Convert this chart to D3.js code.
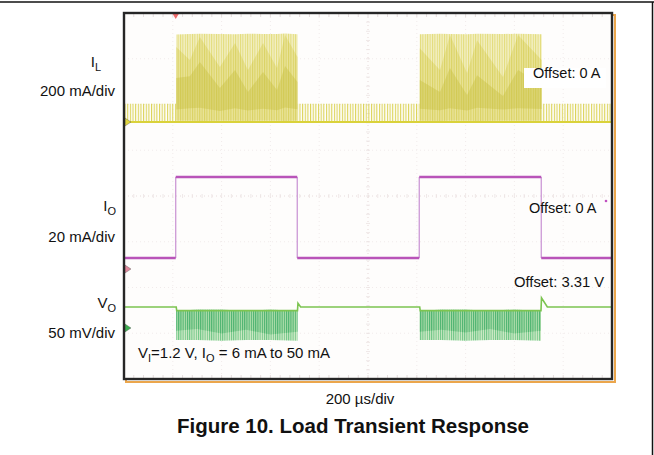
<!DOCTYPE html>
<html><head><meta charset="utf-8">
<script src="https://cdn.jsdelivr.net/npm/d3@7"></script>
<style>
html,body{margin:0;padding:0;background:#fff;}
svg{display:block;font-family:"Liberation Sans",Arial,Helvetica,sans-serif;}
</style></head><body>
<svg id="chart" width="654" height="455"></svg>
<script>
// ---- horizontal axis: 10 divisions of 200 µs ----
const timeDomain = [0, 2000];
const timeDivs = [0, 200, 400, 600, 800, 1000, 1200, 1400, 1600, 1800, 2000];
const vertDivs = [-4, -3, -2, -1, 0, 1, 2, 3, 4];

// ---- load current I_O (mA): step times (µs) and levels ----
const ioEdges = [212, 710, 1210, 1710];
const ioLevels = [6, 50];           // light load, heavy load
const ioSegStart = [0, 212, 710, 1210, 1710];
const ioSegEnd   = [212, 710, 1210, 1710, 2000];
const ioSegLevel = [6, 50, 6, 50, 6];

// ---- inductor current I_L (mA) ----
// light-load PFM pulses: intervals (µs) and pulse peak (mA)
const ilPfmStart = [0, 711, 1712];
const ilPfmEnd   = [214, 1212, 2000];
const ilPfmPeak  = [80, 80, 80];
// heavy-load bursts: envelope read along time (µs)
const burst1Time   = [214, 270, 311, 393, 455, 508, 570, 627, 660, 711];
const burst1Outer  = [383, 385, 386, 385, 384, 386, 385, 385, 387, 384];
const burst1Inner  = [328, 271, 372, 240, 345, 227, 345, 236, 380, 284];
const burst1CoreHi = [192, 200, 262, 149, 227, 131, 219, 140, 245, 175];
const burst1CoreLo = [55, 60, 62, 48, 60, 50, 58, 52, 64, 56];
const burst1Floor  = [6, 6, 5, 6, 6, 5, 6, 6, 5, 6];
const burst2Time   = [1212, 1295, 1336, 1406, 1447, 1553, 1615, 1712];
const burst2Outer  = [384, 386, 385, 384, 386, 385, 386, 384];
const burst2Inner  = [323, 227, 380, 214, 358, 197, 380, 271];
const burst2CoreHi = [184, 131, 236, 118, 205, 114, 227, 162];
const burst2CoreLo = [58, 52, 60, 50, 62, 55, 60, 57];
const burst2Floor  = [6, 5, 6, 6, 5, 6, 6, 6];

// ---- output voltage V_O (mV above the 3.31 V offset) ----
const voTime = [0, 214, 216, 711, 713, 724, 1212, 1214, 1709, 1711, 1735, 2000];
const voVal  = [23, 23, 19, 19, 27, 23, 23, 19, 19, 33, 23, 23];
const voBandTime1 = [214, 300, 400, 500, 600, 711];
const voBandTime2 = [1212, 1300, 1400, 1500, 1600, 1709];
const voBandTop    = [19, 20, 20, 19, 20, 19];
const voBandCore1  = [-3, -1, -6, -2, -7, -4];
const voBandCore2  = [-4, -2, -5, -1, -6, -3];
const voBandBottom = [-13, -13, -14, -13, -13, -14];

// ---- plot geometry ----
const svg = d3.select("#chart");
const F = {x0: 124, x1: 612, y0: 13, y1: 379};

const x = d3.scaleLinear().domain(timeDomain).range([F.x0, F.x1]);
const yDiv = d3.scaleLinear().domain([4, -4]).range([F.y0, F.y1]);
// channel scales: zero-level position (div) and gain (units/div)
const ilY = d3.scaleLinear().domain([0, 200]).range([yDiv(1.617), yDiv(2.617)]);
const ioY = d3.scaleLinear().domain([0, 50]).range([yDiv(-1.596), yDiv(0.415)]);
const voY = d3.scaleLinear().domain([0, 50]).range([yDiv(-2.885), yDiv(-1.885)]);

const defs = svg.append("defs");
const clip = defs.append("clipPath").attr("id", "plotClip");
clip.append("rect").attr("x", F.x0).attr("y", F.y0)
  .attr("width", F.x1 - F.x0).attr("height", F.y1 - F.y0);

// stripe patterns standing in for the individual switching pulses
function stripes(id, w, bg, fg, lw) {
  const p = defs.append("pattern").attr("id", id)
    .attr("patternUnits", "userSpaceOnUse").attr("width", w).attr("height", 10);
  if (bg) p.append("rect").attr("width", w).attr("height", 10).attr("fill", bg);
  p.append("rect").attr("x", 0).attr("width", lw).attr("height", 10).attr("fill", fg);
}
stripes("pfm", 2.65, null, "#dcd45a", 1.1);
stripes("ilBand", 2.4, "#f3f0c4", "#e2db78", 1);
stripes("ilInner", 2.4, "#e6df88", "#d6ce58", 1.1);
stripes("voBand", 2.2, "#d3ecc9", "#6cc484", 1);
stripes("voCore", 2.2, "#a4d9a2", "#3eac66", 1.1);

// ---- page rules ----
svg.append("line").attr("x1", 0).attr("x2", 654).attr("y1", 2).attr("y2", 2)
  .attr("stroke", "#111").attr("stroke-width", 1.5);
svg.append("line").attr("x1", 652.5).attr("x2", 652.5).attr("y1", 2).attr("y2", 455)
  .attr("stroke", "#111").attr("stroke-width", 1.5);

// ---- screen: shadow, background, graticule ----
svg.append("rect").attr("x", F.x0 + 2).attr("y", F.y0 + 2)
  .attr("width", F.x1 - F.x0 + 1).attr("height", F.y1 - F.y0 + 1)
  .attr("fill", "none").attr("stroke", "#eba64c").attr("stroke-width", 2);
svg.append("rect").attr("x", F.x0).attr("y", F.y0)
  .attr("width", F.x1 - F.x0).attr("height", F.y1 - F.y0).attr("fill", "#fefdfc");

const grid = svg.append("g").attr("clip-path", "url(#plotClip)");
grid.selectAll("line.vg").data(timeDivs.slice(1, -1)).join("line")
  .attr("x1", d => x(d)).attr("x2", d => x(d)).attr("y1", F.y0).attr("y2", F.y1)
  .attr("stroke", d => d === 1000 ? "#e6d8d8" : "#f1ebeb")
  .attr("stroke-dasharray", "1,3").attr("stroke-width", 1);
grid.selectAll("line.hg").data(vertDivs.slice(1, -1)).join("line")
  .attr("x1", F.x0).attr("x2", F.x1).attr("y1", d => yDiv(d)).attr("y2", d => yDiv(d))
  .attr("stroke", d => d === 0 ? "#e8dcdc" : "#f1ebeb")
  .attr("stroke-dasharray", "1,3").attr("stroke-width", 1);
// minor ticks (5 per division) on the edges and centre lines
const minorT = d3.range(0, 2001, 40);
const minorV = d3.range(-4, 4.01, 0.2);
[F.y0 + 1, F.y1 - 1].forEach((yy, k) => {
  grid.selectAll(null).data(minorT).join("line")
    .attr("x1", d => x(d)).attr("x2", d => x(d))
    .attr("y1", yy).attr("y2", yy + (k ? -3 : 3))
    .attr("stroke", "#e0d6d6").attr("stroke-width", 0.8);
});
grid.selectAll(null).data(minorT).join("line")
  .attr("x1", d => x(d)).attr("x2", d => x(d))
  .attr("y1", yDiv(0) - 2).attr("y2", yDiv(0) + 2)
  .attr("stroke", "#ebe2e2").attr("stroke-width", 0.8);
grid.selectAll(null).data(minorV).join("line")
  .attr("x1", x(1000) - 2).attr("x2", x(1000) + 2)
  .attr("y1", d => yDiv(d)).attr("y2", d => yDiv(d))
  .attr("stroke", "#ebe2e2").attr("stroke-width", 0.8);

const plot = svg.append("g").attr("clip-path", "url(#plotClip)");

// ---- I_L ----
plot.selectAll("rect.pfm").data(d3.range(ilPfmStart.length)).join("rect")
  .attr("x", i => x(ilPfmStart[i])).attr("width", i => x(ilPfmEnd[i]) - x(ilPfmStart[i]))
  .attr("y", i => ilY(ilPfmPeak[i])).attr("height", i => ilY(0) - ilY(ilPfmPeak[i]))
  .attr("fill", "url(#pfm)");
plot.append("line").attr("x1", x(0)).attr("x2", x(2000))
  .attr("y1", ilY(0)).attr("y2", ilY(0))
  .attr("stroke", "#dad23a").attr("stroke-width", 2);

function drawBurst(t, outer, inner, coreHi, coreLo, floor) {
  const idx = d3.range(t.length);
  const area = (lo, hi) => d3.area().x(i => x(t[i]))
    .y0(i => ilY(lo[i])).y1(i => ilY(hi[i]))(idx);
  plot.append("path").attr("d", area(floor, outer)).attr("fill", "url(#ilBand)");
  plot.append("path").attr("d", area(floor, inner)).attr("fill", "url(#ilInner)")
    .attr("opacity", 0.7);
  plot.append("path").attr("d", area(coreLo, coreHi)).attr("fill", "#c6be3c")
    .attr("opacity", 0.4);
}
drawBurst(burst1Time, burst1Outer, burst1Inner, burst1CoreHi, burst1CoreLo, burst1Floor);
drawBurst(burst2Time, burst2Outer, burst2Inner, burst2CoreHi, burst2CoreLo, burst2Floor);

// ---- I_O ----
plot.selectAll("line.ioe").data(ioEdges).join("line")
  .attr("x1", d => x(d)).attr("x2", d => x(d))
  .attr("y1", ioY(ioLevels[0])).attr("y2", ioY(ioLevels[1]))
  .attr("stroke", "#c890d2").attr("stroke-width", 1.2);
plot.selectAll("line.ios").data(d3.range(ioSegStart.length)).join("line")
  .attr("x1", i => x(ioSegStart[i])).attr("x2", i => x(ioSegEnd[i]))
  .attr("y1", i => ioY(ioSegLevel[i])).attr("y2", i => ioY(ioSegLevel[i]))
  .attr("stroke", "#b954b9").attr("stroke-width", 2.6);

// ---- V_O ----
function drawVoBand(t, core) {
  const idx = d3.range(t.length);
  const area = (lo, hi) => d3.area().x(i => x(t[i]))
    .y0(i => voY(lo[i])).y1(i => voY(hi[i]))(idx);
  plot.append("path").attr("d", area(voBandBottom, voBandTop)).attr("fill", "url(#voBand)");
  plot.append("path").attr("d", area(core, voBandTop)).attr("fill", "url(#voCore)")
    .attr("opacity", 0.75);
}
drawVoBand(voBandTime1, voBandCore1);
drawVoBand(voBandTime2, voBandCore2);
plot.append("path")
  .attr("d", d3.line().x(i => x(voTime[i])).y(i => voY(voVal[i]))(d3.range(voTime.length)))
  .attr("fill", "none").attr("stroke", "#7cc450").attr("stroke-width", 1.6);

// ---- channel / trigger markers ----
const marker = (yy, col) => svg.append("path")
  .attr("d", `M${F.x0 + 1},${yy - 4}L${F.x0 + 7},${yy}L${F.x0 + 1},${yy + 4}Z`)
  .attr("fill", col).attr("stroke", "#555").attr("stroke-width", 0.4);
marker(ilY(0), "#e0d640");
marker(ioY(0), "#e0889c");
marker(voY(0), "#3cae50");
svg.append("path")
  .attr("d", `M${x(ioEdges[0]) - 3},${F.y0 + 1}L${x(ioEdges[0]) + 3},${F.y0 + 1}L${x(ioEdges[0])},${F.y0 + 6}Z`)
  .attr("fill", "#ee6a6a");
svg.append("circle").attr("cx", F.x1 - 6).attr("cy", yDiv(-0.11)).attr("r", 1.3)
  .attr("fill", "#c050c0");

// ---- screen frame ----
svg.append("rect").attr("x", F.x0).attr("y", F.y0)
  .attr("width", F.x1 - F.x0).attr("height", F.y1 - F.y0)
  .attr("fill", "none").attr("stroke", "#262626").attr("stroke-width", 2.4);

// ---- labels ----
function label(xx, yy, parts, opts = {}) {
  const t = svg.append("text").attr("x", xx).attr("y", yy)
    .attr("font-size", opts.size || 15).attr("fill", "#111")
    .attr("text-anchor", opts.anchor || "start")
    .attr("font-weight", opts.weight || "normal");
  parts.forEach(p => {
    if (typeof p === "string") t.append("tspan").text(p);
    else t.append("tspan").attr("font-size", p.size || 11)
      .attr("baseline-shift", p.shift || "-4").text(p.sub);
  });
  return t;
}
label(101, 67, ["I", {sub: "L"}], {anchor: "end"});
label(115, 96, ["200 mA/div"], {anchor: "end"});
label(116, 211, ["I", {sub: "O"}], {anchor: "end"});
label(115, 242, ["20 mA/div"], {anchor: "end"});
label(116, 308, ["V", {sub: "O"}], {anchor: "end"});
label(115, 338, ["50 mV/div"], {anchor: "end"});

svg.append("rect").attr("x", 524).attr("y", 68).attr("width", 82).attr("height", 20)
  .attr("fill", "#fff");
label(533, 77.5, ["Offset: 0 A"], {size: 14.5});
label(529, 213, ["Offset: 0 A"], {size: 14.5});
label(514, 287, ["Offset: 3.31 V"], {size: 14.8});
label(138, 358, ["V", {sub: "I"}, "=1.2 V, I", {sub: "O"}, " = 6 mA to 50 mA"]);

label(360, 404, ["200 \u00b5s/div"], {anchor: "middle"});
label(353, 433, ["Figure 10. Load Transient Response"], {anchor: "middle", size: 20.5, weight: "bold"});
</script>
</body></html>
